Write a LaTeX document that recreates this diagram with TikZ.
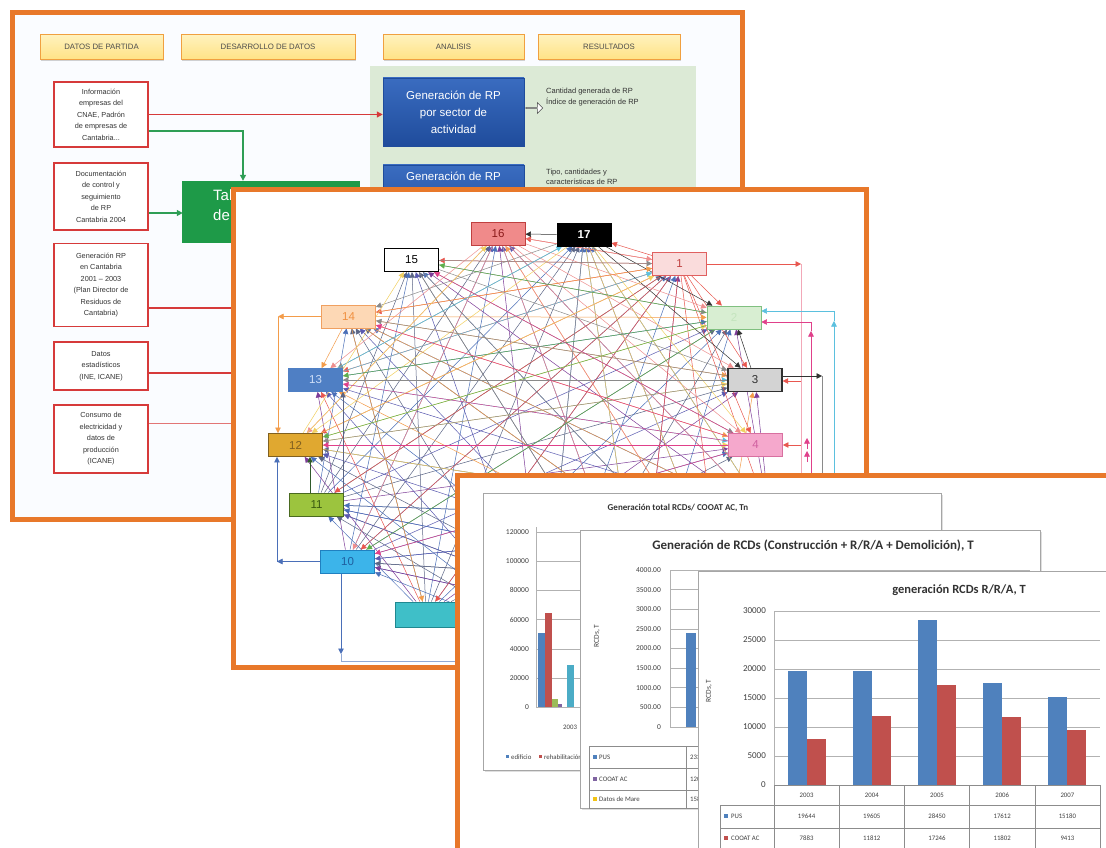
\documentclass[tikz,border=0pt]{standalone}
\usepackage{fontspec}
\setmainfont{Liberation Sans}
\newfontfamily\chartfont{Carlito}
\usetikzlibrary{arrows.meta,shadows,shapes.arrows}
\pgfdeclarelayer{edges}
\pgfdeclarelayer{nodes}
\pgfdeclarelayer{top}
\pgfsetlayers{main,edges,nodes,top}
\definecolor{oframe}{HTML}{E8782A}
\definecolor{s1bg}{HTML}{FAFCFF}
\definecolor{hdrtop}{HTML}{FFF2BE}
\definecolor{hdrbot}{HTML}{FFE285}
\definecolor{hdrline}{HTML}{F0A040}
\definecolor{rbred}{HTML}{D63A3A}
\definecolor{bbtop}{HTML}{3A6CC0}
\definecolor{bbbot}{HTML}{1F4C9C}
\definecolor{pgreen}{HTML}{DCEAD6}
\definecolor{gbox}{HTML}{1E9A48}
\definecolor{grn}{HTML}{2E9E55}
\definecolor{eRed}{HTML}{E8574F}
\definecolor{ePink}{HTML}{EE8E8E}
\definecolor{eLPink}{HTML}{F2A8B8}
\definecolor{eDark}{HTML}{333333}
\definecolor{eGray}{HTML}{8A8A8A}
\definecolor{eOrange}{HTML}{F39C4A}
\definecolor{eBlue}{HTML}{4A6FB8}
\definecolor{eYellow}{HTML}{F2D060}
\definecolor{eSlate}{HTML}{5B6585}
\definecolor{eTeal}{HTML}{3FB5C0}
\definecolor{ePurple}{HTML}{7D3C98}
\definecolor{eIndigo}{HTML}{5A5AB0}
\definecolor{eGreen}{HTML}{5DAE4D}
\definecolor{eDGreen}{HTML}{2F5A2A}
\definecolor{eMag}{HTML}{E0408A}
\definecolor{eCyan}{HTML}{5BC0DE}
\definecolor{cBlue}{HTML}{4F81BD}
\definecolor{cRed}{HTML}{C0504D}
\definecolor{cGreen}{HTML}{9BBB59}
\definecolor{cPurple}{HTML}{8064A2}
\definecolor{cCyan}{HTML}{4BACC6}
\definecolor{cYellow}{HTML}{F2C314}
\begin{document}
\begin{tikzpicture}[x=1pt,y=-1pt,
  slideframe/.style={draw=oframe,line width=5pt},
  hdr/.style={draw=hdrline,line width=0.9pt,top color=hdrtop,bottom color=hdrbot,minimum height=25pt,inner sep=0pt,font=\fontsize{7.8}{8}\selectfont,text=black!70,drop shadow={shadow xshift=1.2pt,shadow yshift=-1.2pt,opacity=0.35}},
  rbox/.style={draw=rbred,line width=1.5pt,fill=white,align=center,minimum width=94pt,inner sep=1pt,font=\fontsize{7.3}{11.5}\selectfont,text=black!80},
  bluebox/.style={top color=bbtop,bottom color=bbbot,draw=bbbot,line width=0.5pt,text=white,align=center,minimum width=141pt,minimum height=68pt,inner sep=0pt,font=\fontsize{11.5}{17}\selectfont},
  smalltxt/.style={font=\fontsize{7.5}{10.5}\selectfont,align=left,text=black!80,inner sep=0pt},
  nd/.style={draw,line width=0.9pt,minimum width=54pt,minimum height=23pt,inner sep=0pt,font=\fontsize{11.5}{12}\selectfont},
  lnk/.style={draw=#1,line width=0.5pt,-{Triangle[length=5.5pt,width=5.5pt]}},
  wr/.style={draw=#1,line width=0.6pt},
  grline/.style={draw=grn,line width=1.2pt,-{Triangle[length=6pt,width=6pt]}},
  rdline/.style={draw=rbred,line width=1.2pt,-{Triangle[length=6pt,width=6pt]}},
  rdplain/.style={draw=rbred,line width=1.2pt},
  panel/.style={draw=black!35,line width=0.6pt,fill=white,inner sep=0pt,drop shadow={shadow xshift=2pt,shadow yshift=-2pt,opacity=0.25}},
  ctitle/.style={font=\chartfont\fontsize{8}{9}\selectfont\bfseries,text=black!80,inner sep=0pt},
  ylab/.style={font=\chartfont\fontsize{7.5}{8}\selectfont,text=black!75,inner sep=0pt,anchor=east},
  tcell/.style={font=\chartfont\fontsize{6.8}{7}\selectfont,text=black!75,inner sep=0pt},
  gline/.style={draw=black!30,line width=0.5pt},
  tline/.style={draw=black!45,line width=0.5pt}
]
\useasboundingbox (0,0) rectangle (1106,848);
\fill[white] (0,0) rectangle (1106,848);

% ================= Slide 1 =================
\draw[slideframe,fill=s1bg] (12,13) rectangle (742,519);
\node[hdr,minimum width=123pt] (h1) at (101.5,47) {DATOS DE PARTIDA};
\node[hdr,minimum width=174pt] (h2) at (268,47) {DESARROLLO DE DATOS};
\node[hdr,minimum width=141pt] (h3) at (453.5,47) {ANALISIS};
\node[hdr,minimum width=142pt] (h4) at (609,47) {RESULTADOS};

\node[fill=pgreen,minimum width=326pt,minimum height=140pt,anchor=north west,inner sep=0pt] (gpanel) at (370,66) {};
\node[bluebox] (bb1) at (453.5,112) {Generación de RP\\por sector de\\actividad};
\node[bluebox] (bb2) at (453.5,199) {};
\node[font=\fontsize{11.5}{12}\selectfont,text=white,inner sep=0pt] (bb2t) at (453.5,176) {Generación de RP};
\node[single arrow,draw=black!70,fill=white,line width=0.6pt,minimum height=17pt,minimum width=11pt,single arrow head extend=2.5pt,inner sep=0pt] (harr) at (534,108) {};
\node[smalltxt,anchor=west] (res1) at (546,97) {Cantidad generada de RP\\Índice de generación de RP};
\node[smalltxt,anchor=west] (res2) at (546,177) {Tipo, cantidades y\\características de RP};
\draw[-{Stealth[length=4pt]},black!70,line width=0.8pt] ([yshift=-14pt]bb2.east) -- ++(16,0);

\node[rbox,minimum height=65pt] (rA) at (101,114.5) {Información\\empresas del\\CNAE, Padrón\\de empresas de\\Cantabria...};
\node[rbox,minimum height=67pt] (rB) at (101,196.5) {Documentación\\de control y\\seguimiento\\de RP\\Cantabria 2004};
\node[rbox,minimum height=83pt] (rC) at (101,285) {Generación RP\\en Cantabria\\2001 -- 2003\\(Plan Director de\\Residuos de\\Cantabria)};
\node[rbox,minimum height=48pt] (rD) at (101,366) {Datos\\estadísticos\\(INE, ICANE)};
\node[rbox,minimum height=68pt] (rE) at (101,439) {Consumo de\\electricidad y\\datos de\\producción\\(ICANE)};

\node[fill=gbox,minimum width=178pt,minimum height=62pt,inner sep=0pt] (gb) at (271,212) {};
\node[anchor=north west,text=white,font=\fontsize{15}{20}\selectfont,align=left,inner sep=0pt] (gbt) at (213,189) {Tabla\\de datos};

\coordinate (gturn) at (243,131);
\draw[grline] ([yshift=-16.5pt]rA.east) -- (gturn) -- (gturn |- gb.north);
\draw[rdline] (rA.east) -- (rA.east -| bb1.west);
\draw[grline] ([yshift=-16.5pt]rB.east) -- ++(34,0);
\draw[rdplain] ([yshift=-23pt]rC.east) -- ++(150,0);
\draw[rdplain] ([yshift=-7pt]rD.east) -- ++(150,0);
\draw[rdplain,line width=0.8pt,draw=rbred!70] ([yshift=16pt]rE.east) -- ++(150,0);

% ================= Slide 2 =================
\draw[slideframe,fill=white] (233,189) rectangle (866,667);

\begin{pgfonlayer}{nodes}
\node[nd,fill={rgb,255:red,240;green,138;blue,138},draw={rgb,255:red,192;green,64;blue,64},text={rgb,255:red,139;green,26;blue,26}] (n16) at (498,234) {16};
\node[nd,fill=black,draw=black,text=white,font=\fontsize{11.5}{12}\selectfont\bfseries] (n17) at (584,234.5) {17};
\node[nd,fill=white,draw=black,line width=1.3pt] (n15) at (411.5,260) {15};
\node[nd,fill={rgb,255:red,250;green,220;blue,220},draw={rgb,255:red,224;green,96;blue,96},text={rgb,255:red,192;green,64;blue,64}] (n1) at (679.5,264) {1};
\node[nd,fill={rgb,255:red,216;green,238;blue,210},draw={rgb,255:red,128;green,192;blue,128},text={rgb,255:red,196;green,228;blue,190}] (n2) at (734,317.5) {2};
\node[nd,fill={rgb,255:red,211;green,211;blue,211},draw={rgb,255:red,48;green,48;blue,48},line width=1.4pt,text={rgb,255:red,48;green,48;blue,48}] (n3) at (755,380) {3};
\node[nd,fill={rgb,255:red,245;green,168;blue,204},draw={rgb,255:red,216;green,112;blue,160},text={rgb,255:red,208;green,96;blue,160}] (n4) at (755.5,445) {4};
\node[nd,fill={rgb,255:red,253;green,216;blue,181},draw={rgb,255:red,240;green,160;blue,96},text={rgb,255:red,240;green,144;blue,64}] (n14) at (348.5,316.5) {14};
\node[nd,fill={rgb,255:red,79;green,127;blue,196},draw={rgb,255:red,79;green,127;blue,196},text={rgb,255:red,208;green,224;blue,248}] (n13) at (315.5,380) {13};
\node[nd,fill={rgb,255:red,224;green,168;blue,48},draw={rgb,255:red,128;green,96;blue,32},text={rgb,255:red,128;green,96;blue,32}] (n12) at (295.5,445) {12};
\node[nd,fill={rgb,255:red,156;green,196;blue,62},draw={rgb,255:red,74;green,106;blue,32},text={rgb,255:red,58;green,90;blue,16}] (n11) at (316.5,504.5) {11};
\node[nd,fill={rgb,255:red,60;green,180;blue,234},draw={rgb,255:red,32;green,128;blue,192},text={rgb,255:red,31;green,95;blue,160}] (n10) at (347.5,561.5) {10};
\node[nd,minimum width=62pt,minimum height=25pt,fill={rgb,255:red,63;green,191;blue,200},draw={rgb,255:red,32;green,136;blue,144}] (n9) at (426,614.5) {};
\end{pgfonlayer}
\coordinate (n5) at (770,520);
\coordinate (n6) at (720,585);
\coordinate (n7) at (640,625);
\coordinate (n8) at (545,640);

\begin{pgfonlayer}{edges}
\foreach \s/\t/\c in {
 n11/n15/eSlate, n11/n16/eSlate, n11/n17/eBlue, n11/n1/eSlate, n11/n2/eIndigo, n11/n3/eSlate, n11/n4/ePurple, n11/n14/eBlue, n11/n5/eSlate, n11/n6/eIndigo, n11/n7/eSlate,
 n10/n16/eIndigo, n10/n17/eSlate, n10/n1/eBlue, n10/n2/eSlate, n10/n3/eIndigo, n10/n4/eBlue, n10/n15/eBlue, n10/n13/ePurple, n10/n5/eBlue, n10/n6/eSlate, n10/n7/eIndigo,
 n9/n17/eSlate, n9/n16/eBlue, n9/n1/eIndigo, n9/n2/eBlue, n9/n3/ePurple, n9/n15/eSlate, n9/n13/eRed, n9/n12/ePurple, n9/n14/eSlate, n9/n11/eBlue, n9/n4/eSlate,
 n8/n15/eIndigo, n8/n16/ePurple, n8/n17/eBlue, n8/n14/eSlate, n8/n13/eIndigo, n8/n12/eBlue, n8/n2/eSlate, n8/n1/eBlue, n8/n9/eDark, n8/n11/eSlate, n8/n10/eBlue,
 n7/n15/eSlate, n7/n16/eIndigo, n7/n13/eBlue, n7/n12/eSlate, n7/n14/eIndigo, n7/n1/ePurple, n7/n17/eBlue, n7/n9/eOrange, n7/n11/eIndigo, n7/n10/ePurple, n7/n2/eBlue,
 n6/n16/eOrange, n6/n15/eBlue, n6/n13/eOrange, n6/n12/eIndigo, n6/n14/eSlate, n6/n17/eIndigo, n6/n3/eOrange, n6/n11/eBlue, n6/n10/eSlate,
 n5/n17/eBlue, n5/n16/eIndigo, n5/n15/ePurple, n5/n14/eBlue, n5/n13/eIndigo, n5/n12/eSlate, n5/n11/eBlue, n5/n10/eIndigo, n5/n2/ePurple, n5/n3/ePurple,
 n1/n15/eRed, n1/n16/eRed, n1/n14/eRed, n1/n13/eRed, n1/n12/eRed, n1/n11/eRed, n1/n10/eRed, n1/n9/eRed, n1/n3/eRed, n1/n4/eRed, n1/n5/eRed, n1/n6/eRed, n1/n7/eRed, n1/n2/eRed, n1/n17/eRed,
 n16/n2/ePink, n16/n3/ePink, n16/n4/ePink, n16/n5/ePink, n16/n6/ePink, n16/n7/ePink, n16/n1/ePink, n16/n13/ePink, n16/n12/ePink, n16/n10/ePink,
 n17/n2/eDark, n17/n3/eDark, n17/n4/eYellow, n17/n5/eYellow, n17/n6/eYellow, n17/n7/eYellow, n17/n8/eGray, n17/n13/eGray, n17/n12/eYellow, n17/n14/eGray, n17/n16/eDark,
 n14/n2/eOrange, n14/n3/eOrange, n14/n4/eOrange, n14/n5/eOrange, n14/n1/eOrange, n14/n6/eOrange, n14/n9/eOrange, n14/n13/eOrange,
 n15/n2/eGray, n15/n3/eGray, n15/n4/eGray, n15/n6/eGray, n15/n7/eGray, n15/n1/eGray,
 n13/n2/eBlue, n13/n3/eCyan, n13/n1/eCyan, n13/n4/eCyan, n13/n17/eCyan,
 n12/n2/eYellow, n12/n3/eYellow, n12/n4/eYellow, n12/n1/eYellow, n12/n16/eYellow, n12/n15/eYellow, n12/n5/eYellow,
 n2/n15/eGreen, n2/n13/eGreen, n2/n12/eGreen, n2/n10/eGreen,
 n3/n2/eDark, n3/n13/eGray, n3/n14/eGray, n3/n12/eGray,
 n4/n13/eMag, n4/n12/eMag, n4/n14/eMag, n4/n15/eMag, n4/n10/eMag}
 { \draw[lnk=\c] (\s) -- (\t); }

% routed connectors, right side
\coordinate (r1) at (801,264);
\coordinate (r1d) at (801,720);
\draw[lnk=eRed] (n1.east) -- (r1);
\draw[wr=eLPink] (r1) -- (r1d);
\coordinate (cyT) at (834,311);
\coordinate (cyA) at (834,321);
\coordinate (cyD) at (834,720);
\draw[lnk=eCyan] (cyD) -- (cyA);
\draw[wr=eCyan] (cyA) -- (cyT);
\draw[lnk=eCyan] (cyT) -- (cyT -| n2.east);
\coordinate (mgT) at (811,322);
\coordinate (mgA) at (811,331);
\coordinate (mgD) at (811,720);
\draw[lnk=eMag] (mgD) -- (mgA);
\draw[wr=eMag] (mgA) -- (mgT);
\draw[lnk=eMag] (mgT) -- (mgT -| n2.east);
\coordinate (mg1a) at (807,462);
\coordinate (mg1b) at (807,451);
\coordinate (mg2a) at (807,449);
\coordinate (mg2b) at (807,438);
\draw[lnk=eMag] (mg1a) -- (mg1b);
\draw[lnk=eMag] (mg2a) -- (mg2b);
\coordinate (g3) at (822,376);
\coordinate (g3d) at (822,720);
\draw[lnk=eDark] (n3.east |- g3) -- (g3);
\draw[wr=eGray,line width=0.9pt] (g3) -- (g3d);
\coordinate (r3) at (801,381);
\draw[lnk=eRed] (r3) -- (r3 -| n3.east);
\coordinate (r4) at (801,445);
\draw[lnk=eRed] (r4) -- (r4 -| n4.east);
% routed connectors, left side
\coordinate (o14) at (278,316.5);
\draw[lnk=eOrange] (n14.west) -- (o14);
\draw[lnk=eOrange] (o14) -- (o14 |- n12.north);
\coordinate (o10) at (277,561.5);
\draw[lnk=eBlue] (n10.west) -- (o10);
\draw[lnk=eBlue] (o10) -- (o10 |- n12.south);
\coordinate (o11) at (310,493);
\draw[lnk=eDGreen] (o11) -- (o11 |- n12.south);
\coordinate (o11b) at (343,493);
\draw[lnk=eSlate] (o11b) -- (o11b |- n13.south);
\coordinate (o10c) at (341,573);
\coordinate (o10d) at (341,654);
\coordinate (o10e) at (341,661);
\coordinate (o10f) at (470,661);
\draw[lnk=eBlue] (o10c) -- (o10d);
\draw[wr=eBlue!60] (o10d) -- (o10e) -- (o10f);
\end{pgfonlayer}

% ================= Slide 3 =================
\begin{pgfonlayer}{top}
\draw[slideframe,fill=white] (457,475) rectangle (1140,890);

% chart A
\node[panel,minimum width=458pt,minimum height=277pt] (pa) at (712,631.5) {};
\node[ctitle,font=\chartfont\fontsize{9}{10}\selectfont\bfseries] (ta) at (678,508) {Generación total RCDs/ COOAT AC, Tn};
\foreach \v [count=\i from 0] in {120000,100000,80000,60000,40000,20000,0} {
  \node[ylab] (yla\i) at (529,532+29.2*\i) {\v};
  \draw[gline] (536,532+29.2*\i) -- (930,532+29.2*\i);
}
\draw[gline] (536,527) -- (536,707);
\fill[cBlue] (538,633) rectangle (545,707);
\fill[cRed] (545,613) rectangle (552,707);
\fill[cGreen] (552,699) rectangle (558,707);
\fill[cPurple] (558,704) rectangle (562,707);
\fill[cCyan] (567,665) rectangle (574,707);
\node[tcell,anchor=west] (yra) at (563,727) {2003};
\fill[cBlue] (506,755) rectangle (509,758);
\node[tcell,anchor=west] (lga) at (511,757) {edificio};
\fill[cRed] (539,755) rectangle (542,758);
\node[tcell,anchor=west] (lgb) at (544,757) {rehabilitación};

% chart B
\node[panel,minimum width=460pt,minimum height=278pt] (pb) at (810,669) {};
\node[ctitle,font=\chartfont\fontsize{13}{14}\selectfont\bfseries] (tb) at (813,546) {Generación de RCDs (Construcción + R/R/A + Demolición), T};
\foreach \v [count=\i from 0] in {4000.00,3500.00,3000.00,2500.00,2000.00,1500.00,1000.00,500.00,0} {
  \node[ylab] (ylb\i) at (661,570+19.6*\i) {\v};
  \draw[gline] (670,570+19.6*\i) -- (1030,570+19.6*\i);
}
\draw[gline] (670,570) -- (670,727);
\node[ylab,anchor=center,rotate=90] (yttb) at (597,636) {RCDs, T};
\fill[cBlue] (686,633) rectangle (696,727);
\draw[tline] (589,746) rectangle (1030,808);
\draw[tline] (589,768) -- (1030,768);
\draw[tline] (589,790) -- (1030,790);
\draw[tline] (686,746) -- (686,808);
\fill[cBlue] (593,755) rectangle (597,759);
\node[tcell,anchor=west] (tbr1) at (599,757) {PUS};
\fill[cPurple] (593,777) rectangle (597,781);
\node[tcell,anchor=west] (tbr2) at (599,779) {COOAT AC};
\fill[cYellow] (593,797) rectangle (597,801);
\node[tcell,anchor=west] (tbr3) at (599,799) {Datos de Mare};
\node[tcell,anchor=west] (tbv1) at (690,757) {2338};
\node[tcell,anchor=west] (tbv2) at (690,779) {1209};
\node[tcell,anchor=west] (tbv3) at (690,799) {1580};

% chart C
\node[panel,minimum width=420pt,minimum height=310pt] (pc) at (908,726) {};
\node[ctitle,font=\chartfont\fontsize{12.5}{13}\selectfont\bfseries] (tc) at (959,590) {generación RCDs R/R/A, T};
\foreach \v [count=\i from 0] in {30000,25000,20000,15000,10000,5000,0} {
  \node[ylab,font=\chartfont\fontsize{9}{10}\selectfont] (ylc\i) at (766,611+29*\i) {\v};
  \draw[gline] (774,611+29*\i) -- (1100,611+29*\i);
}
\draw[gline] (774,611) -- (774,785);
\node[ylab,anchor=center,rotate=90] (yttc) at (709,691) {RCDs, T};
\foreach \b/\r/\yr/\vb/\vr [count=\i from 0] in {19.644/7.883/2003/19644/7883, 19.605/11.812/2004/19605/11812, 28.450/17.246/2005/28450/17246, 17.612/11.802/2006/17612/11802, 15.180/9.413/2007/15180/9413} {
  \pgfmathsetmacro\cx{774+65.2*(\i+0.5)}
  \fill[cBlue] (\cx-19,785-5.8*\b) rectangle (\cx,785);
  \fill[cRed] (\cx,785-5.8*\r) rectangle (\cx+19,785);
  \node[tcell] (yrc\i) at (\cx,795) {\yr};
  \node[tcell] (vbc\i) at (\cx,816.5) {\vb};
  \node[tcell] (vrc\i) at (\cx,838) {\vr};
}
\draw[tline] (774,785) -- (1100,785);
\draw[tline] (720,805) -- (1100,805);
\draw[tline] (720,828) -- (1100,828);
\draw[tline] (720,848) -- (1100,848);
\draw[tline] (720,805) -- (720,848);
\foreach \k in {0,...,5} { \draw[tline] (774+65.2*\k,785) -- (774+65.2*\k,848); }
\fill[cBlue] (724,814) rectangle (728,818);
\node[tcell,anchor=west] (tcr1) at (731,816.5) {PUS};
\fill[cRed] (724,836) rectangle (728,840);
\node[tcell,anchor=west] (tcr2) at (731,838) {COOAT AC};
\end{pgfonlayer}
\end{tikzpicture}
\end{document}
